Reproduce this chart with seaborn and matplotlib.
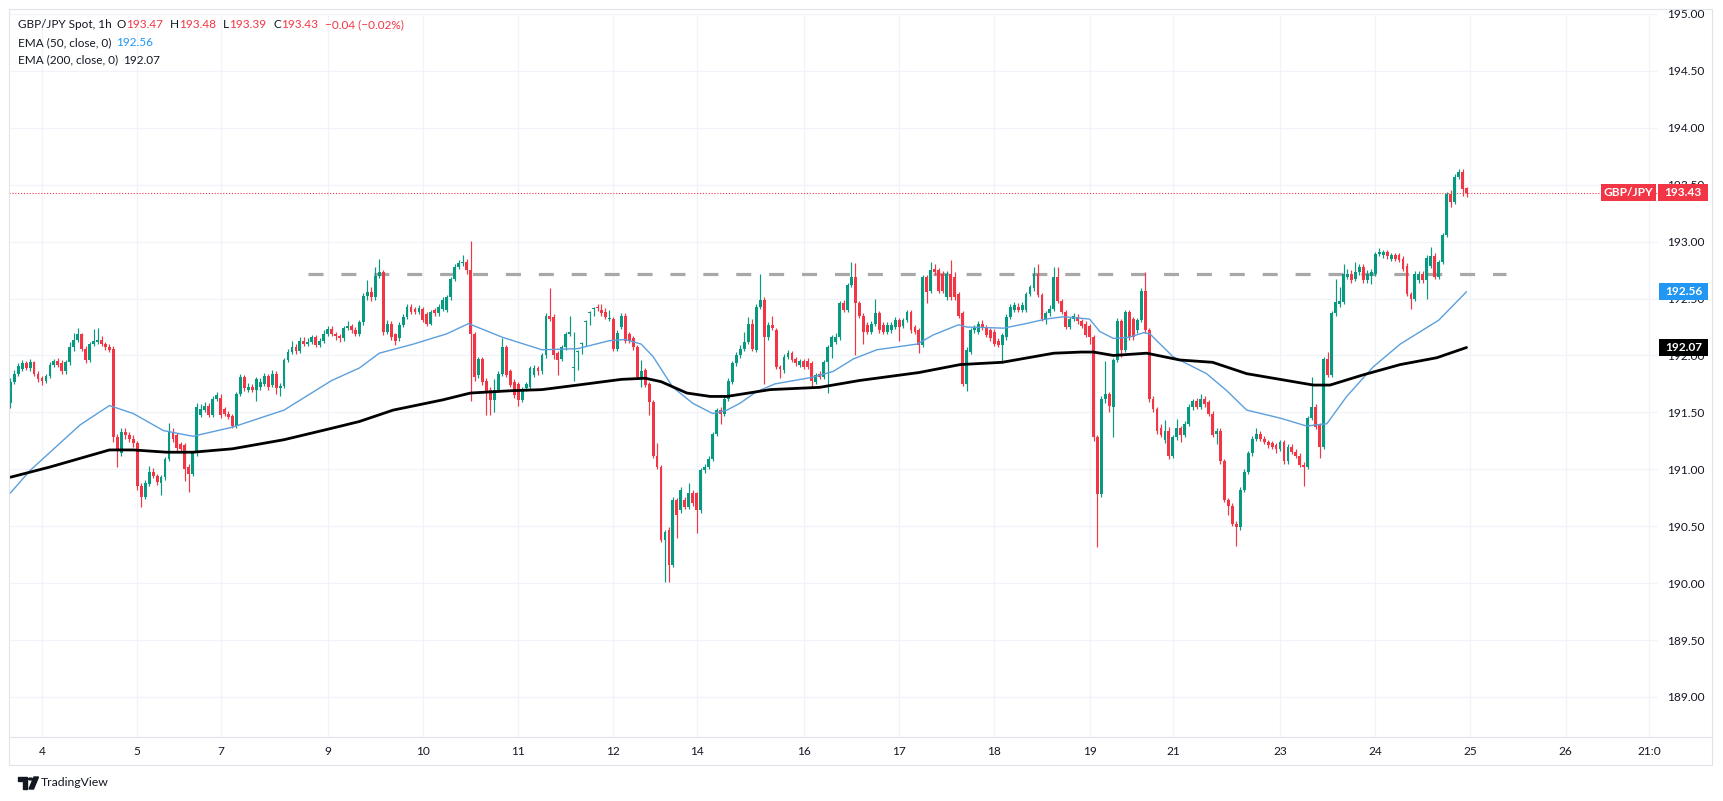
import matplotlib
matplotlib.use("Agg")
import matplotlib.pyplot as plt
import matplotlib.transforms as mtransforms
from matplotlib.patches import Rectangle, Polygon, Circle
from matplotlib.lines import Line2D
import seaborn as sns
import pandas as pd
import numpy as np

# ---------------------------------------------------------------- data
symbol_title = "GBP/JPY Spot, 1h"
change_text = "\u22120.04 (\u22120.02%)"
pair_tag = "GBP/JPY"

# hourly candles (bar index 0 = 3 Apr 16:00)
bar_open = [
 191.58,191.77,191.84,191.88,191.93,191.89,191.94,191.84,
 191.80,191.78,191.82,191.92,191.95,191.93,191.86,191.94,192.07,192.14,192.19,192.06,191.96,192.10,192.12,192.14,
 192.10,192.07,192.06,191.28,191.14,191.33,191.30,191.27,
 191.23,190.85,190.76,190.87,190.98,190.94,190.88,190.93,191.09,191.33,191.30,191.22,191.21,191.02,190.96,191.14,
 191.48,191.52,191.56,191.48,191.62,
 191.63,191.53,191.49,
 191.47,191.38,191.66,191.81,191.70,191.72,191.70,191.72,191.75,191.82,191.74,191.84,191.71,191.73,191.96,192.03,
 192.07,192.04,192.13,192.10,192.12,192.16,192.09,192.13,
 192.19,192.23,192.19,192.17,192.15,192.24,192.26,192.22,192.19,192.29,192.52,192.56,192.51,192.70,192.73,192.21,
 192.28,192.19,192.15,192.27,192.34,192.43,192.41,192.38,
 192.41,192.36,192.28,192.40,192.37,192.41,192.40,192.51,192.67,192.78,192.81,192.82,192.75,192.19,191.83,191.97,
 191.78,191.70,191.61,191.70,191.84,192.07,191.86,191.77,
 191.75,191.61,191.71,191.72,191.83,191.89,191.86,192.00,192.35,192.34,192.02,191.97,192.07,192.19,191.89,192.03,
 192.10,192.29,192.37,192.41,192.43,192.40,192.38,192.32,
 192.32,192.06,192.25,192.35,192.19,192.15,192.07,191.81,191.87,191.75,191.59,191.12,191.02,190.38,190.47,190.16,
 190.73,190.64,190.73,190.67,190.79,
 190.79,190.64,190.99,
 191.02,191.09,191.31,191.52,191.49,191.62,191.77,191.93,192.00,192.06,192.12,192.28,192.05,192.43,192.49,192.16,
 192.27,192.22,191.90,191.87,191.99,192.02,191.97,191.92,
 191.95,191.95,191.93,191.77,191.84,191.81,191.94,192.07,192.12,192.16,192.46,192.40,192.62,192.69,192.46,192.35,
 192.27,192.21,192.28,192.37,192.27,192.21,192.22,192.25,
 192.31,192.26,192.31,192.38,192.25,192.22,192.09,192.69,192.57,192.76,192.75,192.72,192.51,192.72,192.69,192.54,
 192.37,191.75,192.03,192.22,192.21,192.28,192.25,192.22,
 192.21,192.13,192.09,192.16,192.34,192.40,192.43,192.40,192.40,192.54,192.59,192.72,192.53,192.31,192.37,192.41,
 192.69,192.48,192.38,192.25,192.32,192.34,192.30,192.28,
 192.26,192.16,191.28,190.78,191.62,191.66,191.55,191.96,192.30,192.05,192.38,192.32,192.22,192.31,192.57,192.22,
 191.62,191.53,191.36,191.26,191.34,
 191.12,191.28,191.36,
 191.30,191.40,191.55,191.60,191.55,191.62,191.59,191.49,191.31,191.34,191.07,190.73,190.68,190.52,190.49,190.82,
 190.98,191.14,191.27,191.31,191.27,191.24,191.23,191.21,
 191.18,191.24,191.07,191.20,191.15,191.12,191.04,191.02,191.45,191.55,191.39,191.20,191.97,191.83,192.37,192.45,
 192.47,192.69,192.72,192.67,192.73,192.78,192.66,192.70,
 192.72,192.89,192.88,192.91,192.85,192.88,192.88,192.85,192.79,192.54,192.50,192.66,192.72,192.66,192.79,192.87,
 192.69,192.82,193.06,193.42,193.35,193.57,193.61,193.47,
]
bar_high = [
 191.80,191.87,191.93,191.96,191.95,191.97,191.95,191.86,
 191.82,191.84,191.94,191.97,191.98,191.96,191.96,192.12,192.20,192.24,192.20,192.08,192.12,192.23,192.24,192.17,
 192.12,192.10,192.08,191.31,191.36,191.36,191.33,191.30,
 191.25,190.88,190.91,191.03,191.01,190.96,190.95,191.11,191.41,191.36,191.32,191.24,191.23,191.05,191.16,191.58,
 191.57,191.59,191.58,191.64,191.68,
 191.66,191.55,191.51,
 191.49,191.68,191.84,191.83,191.76,191.75,191.81,191.80,191.85,191.84,191.87,191.86,191.76,191.98,192.06,192.13,
 192.10,192.16,192.16,192.15,192.18,192.18,192.15,192.22,
 192.26,192.26,192.21,192.19,192.26,192.30,192.28,192.25,192.31,192.55,192.66,192.60,192.78,192.85,192.75,192.31,
 192.30,192.20,192.29,192.36,192.45,192.45,192.43,192.44,
 192.43,192.38,192.40,192.42,192.45,192.51,192.53,192.69,192.80,192.84,192.88,192.85,193.01,192.21,191.99,191.99,
 191.80,191.72,191.79,191.86,192.15,192.09,191.88,191.79,
 191.77,191.72,191.77,191.91,191.92,191.91,192.02,192.37,192.59,192.36,192.04,192.09,192.21,192.35,192.21,192.05,
 192.12,192.31,192.39,192.43,192.45,192.45,192.42,192.40,
 192.34,192.22,192.37,192.37,192.21,192.17,192.09,191.96,191.89,191.77,191.61,191.23,191.04,190.47,190.49,190.76,
 190.75,190.84,190.76,190.88,190.82,
 190.80,191.01,191.05,
 191.12,191.33,191.54,191.55,191.64,191.80,191.95,192.03,192.09,192.21,192.34,192.32,192.45,192.72,192.51,192.29,
 192.35,192.24,191.92,192.01,192.05,192.04,191.99,191.97,
 191.97,191.98,191.95,191.85,191.86,191.96,192.09,192.18,192.20,192.48,192.49,192.64,192.82,192.81,192.48,192.37,
 192.29,192.30,192.50,192.39,192.29,192.29,192.29,192.34,
 192.33,192.33,192.40,192.40,192.27,192.24,192.71,192.71,192.82,192.80,192.77,192.74,192.74,192.84,192.73,192.56,
 192.39,192.07,192.24,192.27,192.30,192.31,192.27,192.24,
 192.23,192.15,192.20,192.36,192.45,192.47,192.46,192.47,192.56,192.62,192.78,192.80,192.55,192.39,192.44,192.78,
 192.78,192.50,192.40,192.34,192.37,192.36,192.32,192.30,
 192.28,192.18,191.30,191.64,191.95,191.68,191.98,192.33,192.32,192.40,192.40,192.34,192.33,192.59,192.73,192.24,
 191.64,191.55,191.40,191.43,191.37,
 191.30,191.44,191.38,
 191.42,191.57,191.62,191.63,191.66,191.64,191.61,191.51,191.36,191.36,191.09,190.75,190.70,190.55,190.84,191.00,
 191.16,191.29,191.36,191.34,191.29,191.26,191.25,191.23,
 191.26,191.26,191.22,191.22,191.18,191.14,191.06,191.47,191.81,191.57,191.41,191.99,192.03,192.39,192.67,192.60,
 192.80,192.76,192.75,192.82,192.80,192.80,192.75,192.76,
 192.91,192.94,192.93,192.93,192.90,192.90,192.90,192.87,192.81,192.56,192.74,192.74,192.74,192.88,192.95,192.90,
 192.84,193.08,193.44,193.45,193.59,193.64,193.64,193.48,
]
bar_low = [
 191.54,191.75,191.82,191.86,191.87,191.86,191.82,191.77,
 191.74,191.76,191.80,191.90,191.90,191.84,191.84,191.92,192.04,192.12,192.04,191.93,191.94,192.08,192.10,192.08,
 192.05,192.03,191.24,191.02,191.12,191.27,191.24,191.20,
 190.82,190.67,190.74,190.85,190.92,190.86,190.77,190.91,191.07,191.24,191.16,191.15,190.90,190.80,190.94,191.12,
 191.46,191.50,191.46,191.46,191.60,
 191.45,191.47,191.44,
 191.36,191.36,191.64,191.69,191.68,191.68,191.60,191.70,191.73,191.70,191.72,191.66,191.64,191.71,191.94,192.01,
 192.01,192.02,192.08,192.08,192.10,192.07,192.07,192.11,
 192.17,192.17,192.14,192.12,192.13,192.22,192.20,192.17,192.17,192.27,192.49,192.48,192.49,192.68,192.18,192.19,
 192.14,192.09,192.13,192.25,192.32,192.36,192.36,192.36,
 192.29,192.26,192.27,192.35,192.35,192.39,192.38,192.49,192.65,192.76,192.79,192.72,191.60,191.78,191.80,191.74,
 191.48,191.48,191.50,191.68,191.82,191.81,191.72,191.63,
 191.56,191.59,191.69,191.70,191.81,191.83,191.84,191.98,192.30,191.97,191.83,191.95,192.05,192.17,191.78,191.87,
 192.01,192.08,192.27,192.35,192.39,192.35,192.32,192.30,
 192.04,192.04,192.23,192.11,192.11,192.05,191.79,191.72,191.72,191.48,191.10,191.00,190.36,190.01,190.01,190.14,
 190.40,190.62,190.65,190.65,190.68,
 190.44,190.62,190.97,
 191.00,191.07,191.29,191.40,191.47,191.60,191.75,191.91,191.98,192.04,192.10,192.04,192.03,192.41,191.75,192.14,
 192.22,191.88,191.80,191.85,191.97,191.94,191.91,191.90,
 191.88,191.88,191.71,191.75,191.79,191.79,191.67,191.98,192.10,192.14,192.38,192.38,192.60,192.00,192.33,192.10,
 192.19,192.19,192.26,192.20,192.19,192.19,192.20,192.23,
 192.13,192.24,192.29,192.20,192.19,192.02,192.07,192.46,192.55,192.71,192.55,192.55,192.49,192.49,192.49,192.33,
 191.73,191.69,192.01,192.20,192.19,192.22,192.16,192.13,
 192.08,192.07,191.93,192.14,192.32,192.38,192.38,192.38,192.38,192.52,192.57,192.51,192.30,192.28,192.35,192.39,
 192.46,192.36,192.23,192.23,192.30,192.28,192.24,192.16,
 192.10,191.25,190.32,190.76,191.58,191.50,191.28,191.94,191.99,192.03,192.14,192.14,192.20,192.29,192.20,191.59,
 191.50,191.31,191.28,191.23,191.09,
 191.10,191.26,191.24,
 191.28,191.38,191.52,191.53,191.53,191.55,191.47,191.28,191.22,191.05,190.71,190.60,190.50,190.33,190.47,190.80,
 190.96,191.12,191.25,191.25,191.22,191.19,191.18,191.14,
 191.16,191.05,191.05,191.13,191.10,191.02,190.85,191.00,191.43,191.35,191.10,191.18,191.81,191.81,192.35,192.43,
 192.45,192.67,192.64,192.65,192.71,192.64,192.64,192.63,
 192.70,192.87,192.86,192.85,192.83,192.83,192.82,192.74,192.52,192.41,192.48,192.64,192.64,192.50,192.77,192.67,
 192.67,192.80,193.04,193.30,193.33,193.55,193.40,193.39,
]
bar_close = [
 191.77,191.84,191.91,191.93,191.89,191.94,191.84,191.79,
 191.78,191.82,191.92,191.95,191.92,191.86,191.94,192.07,192.14,192.19,192.06,191.96,192.10,192.13,192.14,192.10,
 192.07,192.05,191.28,191.17,191.33,191.30,191.27,191.23,
 190.85,190.76,190.88,190.98,190.94,190.89,190.93,191.09,191.33,191.27,191.19,191.18,191.00,190.96,191.14,191.55,
 191.53,191.56,191.48,191.62,191.65,
 191.48,191.49,191.46,
 191.38,191.66,191.81,191.71,191.72,191.70,191.79,191.77,191.82,191.72,191.84,191.71,191.73,191.96,192.03,192.07,
 192.04,192.13,192.10,192.12,192.16,192.09,192.13,192.19,
 192.23,192.19,192.17,192.15,192.24,192.26,192.22,192.19,192.29,192.52,192.56,192.51,192.70,192.73,192.21,192.28,
 192.16,192.13,192.27,192.34,192.43,192.38,192.38,192.42,
 192.31,192.28,192.38,192.37,192.43,192.49,192.51,192.67,192.78,192.81,192.82,192.75,192.19,191.81,191.97,191.77,
 191.68,191.61,191.70,191.84,192.07,191.83,191.74,191.65,
 191.61,191.70,191.75,191.89,191.89,191.86,192.00,192.35,192.32,192.00,191.96,192.07,192.19,192.21,191.89,192.03,
 192.10,192.29,192.37,192.41,192.42,192.37,192.34,192.32,
 192.06,192.20,192.35,192.13,192.13,192.07,191.81,191.86,191.74,191.59,191.12,191.02,190.38,190.45,190.16,190.73,
 190.60,190.82,190.67,190.79,190.70,
 190.64,190.99,191.02,
 191.09,191.31,191.52,191.49,191.62,191.78,191.93,192.00,192.06,192.12,192.28,192.06,192.43,192.49,192.16,192.27,
 192.24,191.90,191.88,191.99,192.02,191.96,191.93,191.95,
 191.90,191.90,191.78,191.83,191.81,191.94,192.07,192.16,192.16,192.46,192.40,192.62,192.69,192.46,192.35,192.21,
 192.21,192.28,192.37,192.22,192.21,192.27,192.27,192.31,
 192.25,192.31,192.38,192.22,192.21,192.09,192.69,192.56,192.75,192.73,192.57,192.57,192.72,192.51,192.51,192.35,
 191.75,192.05,192.22,192.25,192.28,192.24,192.18,192.15,
 192.10,192.09,192.18,192.34,192.43,192.44,192.40,192.44,192.54,192.60,192.72,192.53,192.32,192.37,192.41,192.69,
 192.48,192.38,192.25,192.32,192.35,192.30,192.26,192.18,
 192.16,191.28,190.78,191.62,191.66,191.56,191.96,192.30,192.05,192.38,192.16,192.16,192.31,192.57,192.22,191.62,
 191.53,191.34,191.30,191.34,191.12,
 191.28,191.36,191.30,
 191.40,191.55,191.60,191.55,191.62,191.57,191.49,191.30,191.34,191.07,190.73,190.68,190.52,190.49,190.82,190.98,
 191.14,191.27,191.31,191.27,191.24,191.21,191.20,191.18,
 191.24,191.07,191.20,191.15,191.12,191.04,191.02,191.45,191.55,191.37,191.20,191.97,191.83,192.37,192.47,192.48,
 192.72,192.72,192.66,192.73,192.78,192.66,192.72,192.73,
 192.89,192.91,192.91,192.87,192.88,192.85,192.84,192.76,192.54,192.50,192.72,192.72,192.66,192.86,192.87,192.69,
 192.82,193.06,193.42,193.35,193.57,193.61,193.46,193.43,
]

# EMA curves (bar index, value)
ema50_bar = [0, 5, 17.6, 25, 31, 38.6, 46, 56, 69, 81, 88, 93, 101.6, 110, 115.5, 124, 134, 143, 151, 155,
             159, 162, 167, 172, 177, 180.6, 183.9, 188, 192.7, 202.4, 207.4, 212.5, 218.4, 228.5, 232.6, 239,
             241, 250.3, 256, 261, 265.4, 272, 274.6, 278, 282, 285.6, 287.2, 293, 301.5, 306.6, 311.6, 320,
             326.7, 331.8, 336.8, 343.5, 350.3, 360, 367]
ema50_val = [190.79, 190.99, 191.39, 191.56, 191.49, 191.34, 191.29, 191.37, 191.52, 191.78, 191.89, 192.02,
             192.10, 192.19, 192.28, 192.16, 192.05, 192.06, 192.13, 192.14, 192.10, 191.99, 191.72, 191.58,
             191.49, 191.52, 191.58, 191.68, 191.75, 191.81, 191.86, 191.97, 192.05, 192.10, 192.18, 192.27,
             192.25, 192.24, 192.28, 192.32, 192.34, 192.32, 192.21, 192.15, 192.16, 192.20, 192.19, 191.99,
             191.84, 191.69, 191.52, 191.45, 191.38, 191.40, 191.64, 191.90, 192.10, 192.31, 192.56]
ema200_bar = [0, 10, 25, 31, 39.4, 46, 56, 69, 81, 88, 96.5, 109, 116, 126, 134, 143, 154, 160, 164, 170.5,
              176.4, 180.6, 191.5, 204, 214, 229, 239.4, 250, 263, 270, 273, 278, 286.4, 294.8, 303, 311.6,
              320, 328.4, 332.6, 341, 350.3, 359.5, 367]
ema200_val = [190.93, 191.02, 191.17, 191.17, 191.15, 191.15, 191.18, 191.26, 191.36, 191.42, 191.52, 191.61,
              191.67, 191.69, 191.70, 191.74, 191.79, 191.80, 191.77, 191.67, 191.64, 191.64, 191.70, 191.72,
              191.78, 191.85, 191.92, 191.94, 192.02, 192.03, 192.03, 192.00, 192.02, 191.96, 191.94, 191.84,
              191.79, 191.74, 191.74, 191.83, 191.92, 191.98, 192.07]

tick_bars = [8, 32, 53, 80, 104, 128, 152, 173, 200, 224, 248, 272, 293, 320, 344, 368, 392, 413]
tick_labels = ["4", "5", "7", "9", "10", "11", "12", "14", "16", "17", "18", "19", "21", "23", "24",
               "25", "26", "21:0"]
price_ticks = [189.0, 189.5, 190.0, 190.5, 191.0, 191.5, 192.0, 192.5, 193.0, 193.5, 194.0, 194.5, 195.0]

resistance_level = 192.72
resistance_from = 75
resistance_to = 377

# ---------------------------------------------------------------- style
W, H, DPI = 1723, 801, 100
UP, DOWN = "#089981", "#F23645"
TXT = "#131722"
BLUE_LINE = "#5b9fdc"
BLUE_TAG = "#2196F3"
GRID = "#f0f3fa"
BORDER = "#e0e3eb"

sns.set_theme(style="white")
plt.rcParams['font.family'] = ['Lato', 'DejaVu Sans']

df = pd.DataFrame({"open": bar_open, "high": bar_high, "low": bar_low, "close": bar_close})
df["bar"] = np.arange(len(df))
df["up"] = df["close"] >= df["open"]
df["color"] = np.where(df["up"], UP, DOWN)

fig = plt.figure(figsize=(W / DPI, H / DPI), dpi=DPI)
fig.patch.set_facecolor("white")
PL, PR, PT, PB = 9, 1658, 14, 737
ax = fig.add_axes([PL / W, 1 - PB / H, (PR - PL) / W, (PB - PT) / H])
ax.set_facecolor("white")

# calibration of the reference: bar 8 at x=42 px, 3.968 px/bar ; 190.00 at y=583 px, 113.9 px/unit
def bar_at(px):
    return 8 + (px - 42) / 3.968
def price_at(py):
    return 190 + (583 - py) / 113.9

# grid
for b in tick_bars:
    ax.axvline(b, color=GRID, lw=0.9, zorder=0)
for p in price_ticks:
    ax.axhline(p, color=GRID, lw=0.9, zorder=0)

# candles
ax.vlines(df["bar"], df["low"], df["high"], colors=df["color"], linewidth=0.85, zorder=3)
body_bottom = np.minimum(df["open"], df["close"])
body_h = np.maximum(np.abs(df["close"] - df["open"]), 0.009)
ax.bar(df["bar"], body_h, bottom=body_bottom, width=0.72, color=df["color"], linewidth=0, zorder=4)

# EMAs
sns.lineplot(x=ema50_bar, y=ema50_val, ax=ax, color=BLUE_LINE, linewidth=1.0, zorder=5, estimator=None)
sns.lineplot(x=ema200_bar, y=ema200_val, ax=ax, color="black", linewidth=2.0, zorder=6, estimator=None)

# resistance dashed line
res = ax.plot([resistance_from, resistance_to], [resistance_level, resistance_level],
              color="#a8a8a8", lw=2.3, zorder=2)[0]
res.set_dashes([4.7, 5.6])
res.set_solid_capstyle("butt")

# last price dotted line
last = bar_close[-1]
ax.axhline(last, color=DOWN, lw=0.8, ls=(0, (1.0, 1.6)), zorder=2)

ax.set_xlim(bar_at(PL), bar_at(PR))
ax.set_ylim(price_at(PB), price_at(PT))
ax.set_xticks(tick_bars)
ax.set_xticklabels(tick_labels)
ax.yaxis.tick_right()
ax.set_yticks(price_ticks)
ax.set_yticklabels([f"{p:.2f}" for p in price_ticks])
ax.tick_params(axis="x", length=0, pad=6.5, labelsize=8.6, labelcolor=TXT)
ax.tick_params(axis="y", length=0, pad=6.5, labelsize=8.6, labelcolor=TXT)
for s in ax.spines.values():
    s.set_visible(False)
ax.set_xlabel("")
ax.set_ylabel("")

# price-scale tags
blend = mtransforms.blended_transform_factory(fig.transFigure, ax.transData)
def tag(price, text, x0, x1, fc):
    h = 17 / 113.9
    ax.add_patch(Rectangle((x0 / W, price - h / 2), (x1 - x0) / W, h, transform=blend,
                           facecolor=fc, edgecolor="none", clip_on=False, zorder=10))
    ax.text((x0 + x1) / 2 / W, price, text, transform=blend, color="white", ha="center",
            va="center", fontsize=8.6, fontweight="bold", zorder=11, clip_on=False)

tag(last, pair_tag, 1601, 1656, DOWN)
tag(last, f"{last:.2f}", 1658, 1708, DOWN)
tag(ema50_val[-1], f"{ema50_val[-1]:.2f}", 1659, 1708, BLUE_TAG)
tag(ema200_val[-1], f"{ema200_val[-1]:.2f}", 1659, 1708, "black")

# frame
def fline(x0, y0, x1, y1, c=BORDER, lw=0.8):
    fig.add_artist(Line2D([x0 / W, x1 / W], [1 - y0 / H, 1 - y1 / H], color=c, lw=lw,
                          transform=fig.transFigure))
fline(9, 9, 1712, 9)
fline(9, 9, 9, 765)
fline(1712, 9, 1712, 765)
fline(9, 765, 1712, 765)
fline(9, 737, 1712, 737)

# legend text (multi-coloured segments)
fig.canvas.draw()
renderer = fig.canvas.get_renderer()
def segments(x, y, parts, size=8.5):
    for txt, col, gap in parts:
        t = fig.text(x / W, 1 - y / H, txt, color=col, fontsize=size, ha="left", va="center")
        x += t.get_window_extent(renderer=renderer).width + gap

segments(18, 25, [(symbol_title, TXT, 5),
                  ("O", TXT, 0), (f"{bar_open[-1]:.2f}", DOWN, 7),
                  ("H", TXT, 0), (f"{bar_high[-1]:.2f}", DOWN, 7),
                  ("L", TXT, 0), (f"{bar_low[-1]:.2f}", DOWN, 7),
                  ("C", TXT, 0), (f"{bar_close[-1]:.2f}", DOWN, 7),
                  (change_text, DOWN, 0)])
segments(18, 43, [("EMA (50, close, 0)", TXT, 5), (f"{ema50_val[-1]:.2f}", BLUE_TAG, 0)])
segments(18, 60, [("EMA (200, close, 0)", TXT, 5), (f"{ema200_val[-1]:.2f}", TXT, 0)])

# TradingView logo
fig.add_artist(Polygon([[18 / W, 1 - 777 / H], [27 / W, 1 - 777 / H], [27 / W, 1 - 789 / H],
                        [23 / W, 1 - 789 / H], [23 / W, 1 - 781 / H], [18 / W, 1 - 781 / H]],
                       closed=True, transform=fig.transFigure, color=TXT))
fig.add_artist(Circle((30.5 / W, 1 - 779 / H), 2.0 / W, transform=fig.transFigure, color=TXT))
fig.add_artist(Polygon([[34 / W, 1 - 777 / H], [38.5 / W, 1 - 777 / H], [33.5 / W, 1 - 789 / H],
                        [29 / W, 1 - 789 / H]], closed=True, transform=fig.transFigure, color=TXT))
fig.text(41 / W, 1 - 783 / H, "TradingView", color=TXT, fontsize=8.8, ha="left", va="center")

fig.savefig("out.png", dpi=DPI, facecolor="white")
